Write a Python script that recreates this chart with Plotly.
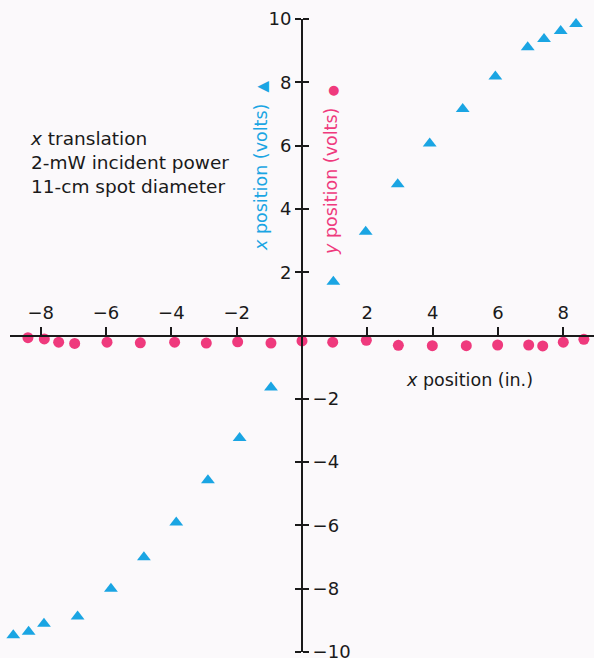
import plotly.graph_objects as go

# Beam position detector response vs. x translation of the spot
# x position (volts) readings
x_sig_pos = [-8.84, -8.37, -7.90, -6.87, -5.85, -4.84, -3.85, -2.88, -1.91, -0.95,
             0.96, 1.95, 2.93, 3.91, 4.92, 5.92, 6.91, 7.41, 7.92, 8.39]
x_sig_volts = [-9.47, -9.36, -9.11, -8.88, -8.00, -7.01, -5.91, -4.57, -3.24, -1.64,
               1.70, 3.28, 4.78, 6.07, 7.16, 8.18, 9.11, 9.37, 9.62, 9.84]

# y position (volts) readings
y_sig_pos = [-8.39, -7.89, -7.45, -6.96, -5.97, -4.95, -3.90, -2.93, -1.97, -0.95,
             0.0, 0.94, 1.97, 2.95, 3.99, 5.03, 5.99, 6.94, 7.37, 8.00, 8.63]
y_sig_volts = [-0.07, -0.11, -0.21, -0.25, -0.21, -0.23, -0.21, -0.24, -0.20, -0.24,
               -0.17, -0.21, -0.15, -0.31, -0.32, -0.32, -0.30, -0.30, -0.33, -0.21, -0.12]

x_tick_vals = [-8, -6, -4, -2, 2, 4, 6, 8]
x_tick_text = ["\u22128", "\u22126", "\u22124", "\u22122", "2", "4", "6", "8"]
y_tick_vals = [-10, -8, -6, -4, -2, 2, 4, 6, 8, 10]
y_tick_left = ["", "", "", "", "", "2", "4", "6", "8", "10"]
y_tick_right = ["\u221210", "\u22128", "\u22126", "\u22124", "\u22122", "", "", "", "", ""]

BLUE = "#1aa5e3"
PINK = "#ef3a7d"
INK = "#1a1a1a"
BG = "#fbf9fb"
FONT = "DejaVu Sans"

W, H = 594, 658
# plot area in pixels
x_left_px, x_right_px = 10, 594
y_top_px, y_bot_px = 19, 652
x_range = [-8.94, 8.94]
y_range = [-10, 10]

x_dom = [x_left_px / W, x_right_px / W]
y_dom = [1 - y_bot_px / H, 1 - y_top_px / H]
# where the axes cross (data zero) in paper units
x0_paper = x_dom[0] + (0 - x_range[0]) / (x_range[1] - x_range[0]) * (x_dom[1] - x_dom[0])
y0_paper = y_dom[0] + (0 - y_range[0]) / (y_range[1] - y_range[0]) * (y_dom[1] - y_dom[0])

fig = go.Figure()

fig.add_trace(go.Scatter(
    x=x_sig_pos, y=x_sig_volts, mode="markers", cliponaxis=False,
    marker=dict(symbol="triangle-up", size=12, color=BLUE, line=dict(width=0)),
    name="x position (volts)", showlegend=False,
))
fig.add_trace(go.Scatter(
    x=y_sig_pos, y=y_sig_volts, mode="markers", cliponaxis=False,
    marker=dict(symbol="circle", size=11, color=PINK, line=dict(width=0)),
    name="y position (volts)", showlegend=False,
))
# an invisible trace so the right-hand tick set is drawn
fig.add_trace(go.Scatter(x=[None], y=[None], yaxis="y2", showlegend=False, hoverinfo="skip"))

tickfont = dict(family=FONT, size=18, color=INK)

fig.update_layout(
    width=W, height=H,
    margin=dict(l=0, r=0, t=0, b=0, autoexpand=False),
    paper_bgcolor=BG, plot_bgcolor=BG,
    xaxis=dict(
        domain=x_dom, range=x_range, anchor="free", position=y0_paper, side="top",
        automargin=False,
        showline=True, linecolor=INK, linewidth=2,
        ticks="outside", ticklen=8, tickwidth=1.6, tickcolor=INK,
        tickvals=x_tick_vals, ticktext=x_tick_text, tickfont=tickfont,
        showgrid=False, zeroline=False,
    ),
    yaxis=dict(
        domain=y_dom, range=y_range, anchor="free", position=x0_paper, side="left",
        automargin=False, ticklabeloverflow="allow",
        showline=True, linecolor=INK, linewidth=2,
        ticks="outside", ticklen=6, tickwidth=1.6, tickcolor=INK,
        tickvals=y_tick_vals, ticktext=y_tick_left, tickfont=tickfont,
        showgrid=False, zeroline=False,
    ),
    yaxis2=dict(
        overlaying="y", range=y_range, anchor="free", position=x0_paper, side="right",
        automargin=False, ticklabeloverflow="allow",
        showline=False,
        ticks="outside", ticklen=6, tickwidth=1.6, tickcolor=INK,
        tickvals=y_tick_vals, ticktext=y_tick_right, tickfont=tickfont,
        showgrid=False, zeroline=False,
    ),
)

glyph = '<span style="font-size:{}px">{}</span>'
annotations = [
    dict(text="<i>x</i> translation<br>2-mW incident power<br>11-cm spot diameter",
         x=28 / W, y=1 - 163 / H, xref="paper", yref="paper",
         xanchor="left", yanchor="middle", align="left", showarrow=False,
         font=dict(family=FONT, size=18.5, color=INK)),
    dict(text="<i>x</i> position (in.)",
         x=469 / W, y=1 - 380 / H, xref="paper", yref="paper",
         xanchor="center", yanchor="middle", showarrow=False,
         font=dict(family=FONT, size=17.5, color=INK)),
    dict(text="<i>x</i> position (volts)  " + glyph.format(15, "\u25B2"),
         x=261 / W, y=1 - 166 / H, xref="paper", yref="paper", textangle=-90,
         xanchor="center", yanchor="middle", showarrow=False,
         font=dict(family=FONT, size=17.5, color=BLUE)),
    dict(text="<i>y</i> position (volts)  " + glyph.format(13, "\u25CF"),
         x=331 / W, y=1 - 170 / H, xref="paper", yref="paper", textangle=-90,
         xanchor="center", yanchor="middle", showarrow=False,
         font=dict(family=FONT, size=17.5, color=PINK)),
]
fig.update_layout(annotations=annotations)

fig.write_html("out.html")
